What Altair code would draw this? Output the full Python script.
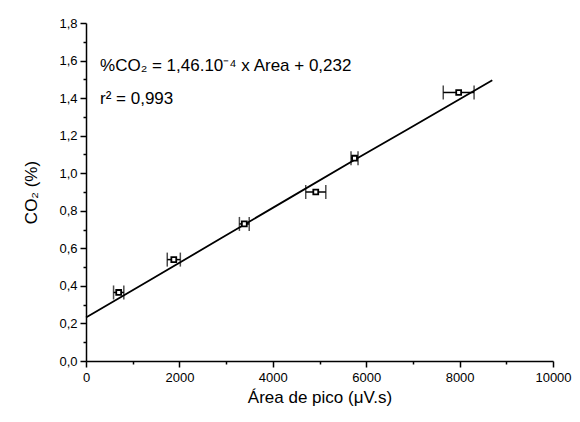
import altair as alt
import pandas as pd

# data points (area, CO2 %, horizontal error)
area = [700, 1880, 3390, 4920, 5750, 7980]
co2 = [0.365, 0.54, 0.73, 0.90, 1.08, 1.43]
area_err = [110, 140, 105, 215, 75, 330]

# fitted line
line_x = [0, 1400, 2900, 4400, 5800, 6900, 8700]
line_y = [0.232, 0.435, 0.655, 0.874, 1.078, 1.235, 1.495]

x_ticks = [i * 1000 for i in range(11)]
y_ticks = [round(i * 0.1, 1) for i in range(19)]

eq_text = ["%CO₂ = 1,46.10⁻⁴ x Area + 0,232", "r² = 0,993"]
eq_x = [300, 300]
eq_y = [1.57, 1.395]

pts = pd.DataFrame({"area": area, "co2": co2, "err": area_err})
pts["lo"] = pts["area"] - pts["err"]
pts["hi"] = pts["area"] + pts["err"]
ln = pd.DataFrame({"x": line_x, "y": line_y})
txt = pd.DataFrame({"x": eq_x, "y": eq_y, "t": eq_text})

FONT = "Liberation Sans"

xscale = alt.Scale(domain=[0, 10000], nice=False, zero=False)
yscale = alt.Scale(domain=[0, 1.8], nice=False, zero=False)

xaxis = alt.Axis(
    title="Área de pico (μV.s)",
    values=x_ticks,
    labelExpr="datum.value % 2000 === 0 ? format(datum.value, 'd') : ''",
    tickSize={"condition": {"test": "datum.value % 2000 === 0", "value": 6}, "value": 3},
    labelOverlap=False, labelFlush=False,
    grid=False, domainColor="black", domainWidth=1.5, tickColor="black", tickWidth=1.5,
    labelFont=FONT, labelFontSize=13, labelColor="black", labelPadding=4,
    titleFont=FONT, titleFontSize=17, titleFontWeight="normal", titleColor="black", titlePadding=5,
)
yaxis = alt.Axis(
    title="CO₂ (%)",
    values=y_ticks,
    labelExpr="round(datum.value*10) % 2 === 0 ? replace(format(datum.value, '.1f'), '.', ',') : ''",
    tickSize={"condition": {"test": "round(datum.value*10) % 2 === 0", "value": 6}, "value": 3},
    labelOverlap=False, labelFlush=False,
    grid=False, domainColor="black", domainWidth=1.5, tickColor="black", tickWidth=1.5,
    labelFont=FONT, labelFontSize=13, labelColor="black", labelPadding=3,
    titleFont=FONT, titleFontSize=17, titleFontWeight="normal", titleColor="black", titlePadding=18,
)


def X(field):
    return alt.X(field, type="quantitative", scale=xscale, axis=xaxis)


def Y(field):
    return alt.Y(field, type="quantitative", scale=yscale, axis=yaxis)


line = alt.Chart(ln).mark_line(color="black", strokeWidth=1.8).encode(
    x=X("x"), y=Y("y"),
)

bars = alt.Chart(pts).mark_rule(color="black", strokeWidth=1.5).encode(
    x=X("lo"), x2="hi:Q", y=Y("co2")
)
cap_lo = alt.Chart(pts).mark_tick(color="black", orient="vertical", size=14, thickness=1.5).encode(
    x=X("lo"), y=Y("co2")
)
cap_hi = alt.Chart(pts).mark_tick(color="black", orient="vertical", size=14, thickness=1.5).encode(
    x=X("hi"), y=Y("co2")
)
marks = alt.Chart(pts).mark_point(shape="square", filled=True, fill="white", stroke="black",
                                  strokeWidth=1.8, size=24, opacity=1).encode(
    x=X("area"), y=Y("co2")
)
text = alt.Chart(txt).mark_text(align="left", baseline="middle", font=FONT, fontSize=17,
                                color="black").encode(
    x=X("x"), y=Y("y"), text="t:N"
)

chart = alt.layer(line, bars, cap_lo, cap_hi, marks, text).properties(
    width=467, height=338,
    autosize=alt.AutoSizeParams(type="none"),
    padding={"left": 86, "top": 23, "right": 27, "bottom": 61},
    background="white",
).configure_view(stroke=None)

chart.save("out.html", embed_options={"renderer": "svg", "actions": False})
